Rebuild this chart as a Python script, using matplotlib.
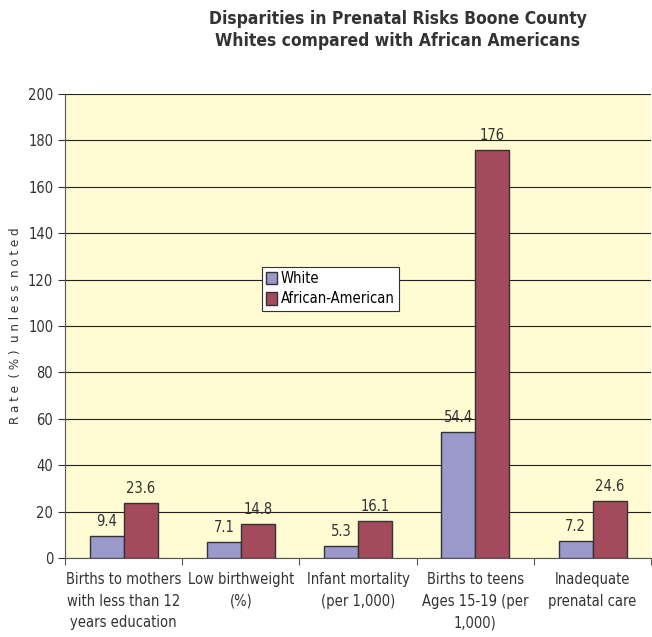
import numpy as np
import matplotlib.pyplot as plt

# data
categories = ["Births to mothers\nwith less than 12\nyears education",
              "Low birthweight\n(%)",
              "Infant mortality\n(per 1,000)",
              "Births to teens\nAges 15-19 (per\n1,000)",
              "Inadequate\nprenatal care"]
white = [9.4, 7.1, 5.3, 54.4, 7.2]
african_american = [23.6, 14.8, 16.1, 176, 24.6]

plt.rcParams['font.family'] = ['DejaVu Sans']
plt.rcParams['font.stretch'] = 'condensed'

fig = plt.figure(figsize=(6.52, 6.37), dpi=100)
ax = fig.add_axes([0.0997, 0.124, 0.899, 0.7286])
ax.set_facecolor('#fffbd2')

x = np.arange(len(categories))
w = 0.29
b1 = ax.bar(x - w/2, white, w, color='#9b98cc', edgecolor='#333333', linewidth=1, label='White', zorder=3)
b2 = ax.bar(x + w/2, african_american, w, color='#a34b5c', edgecolor='#333333', linewidth=1, label='African-American', zorder=3)

for bars in (b1, b2):
    for r in bars:
        ax.annotate(f"{r.get_height():g}", (r.get_x() + r.get_width()/2, r.get_height()),
                    xytext=(0, 5), textcoords='offset points', ha='center', va='bottom',
                    fontsize=10.5, color='#333333', zorder=4)

ax.set_ylim(0, 200)
ax.set_xlim(-0.5, len(categories) - 0.5)
ax.set_yticks(np.arange(0, 201, 20))
ax.yaxis.grid(True, color='#222222', linewidth=0.8, zorder=1)
ax.tick_params(axis='y', labelsize=10.5, colors='#333333', length=5, direction='out')
ax.set_xticks(np.arange(-0.5, len(categories)), minor=False)
ax.set_xticklabels([])
ax.set_xticks(x, minor=True)
ax.set_xticklabels(categories, minor=True, fontsize=10.5, color='#333333', linespacing=1.55)
ax.tick_params(axis='x', which='minor', length=0, pad=10)
ax.tick_params(axis='x', which='major', length=5, color='#555555')
for s in ['top', 'right']:
    ax.spines[s].set_visible(False)
for s in ['left', 'bottom']:
    ax.spines[s].set_color('#555555')

ax.set_ylabel("R a t e  ( % )  u n l e s s  n o t e d", fontsize=9.5, color='#333333', labelpad=4,
              fontstretch='ultra-condensed')

leg = ax.legend(loc='upper left', bbox_to_anchor=(0.336, 0.627), fontsize=10.5, frameon=True,
                fancybox=False, edgecolor='#333333', framealpha=1, borderpad=0.3, borderaxespad=0,
                handlelength=0.7, handleheight=0.9, handletextpad=0.3, labelspacing=0.35)
leg.get_frame().set_linewidth(0.8)

fig.text(0.61, 0.985, "Disparities in Prenatal Risks Boone County\nWhites compared with African Americans",
         ha='center', va='top', fontsize=12.5, fontweight='bold', color='#333333', linespacing=1.35)

fig.savefig('out.png', dpi=100)
